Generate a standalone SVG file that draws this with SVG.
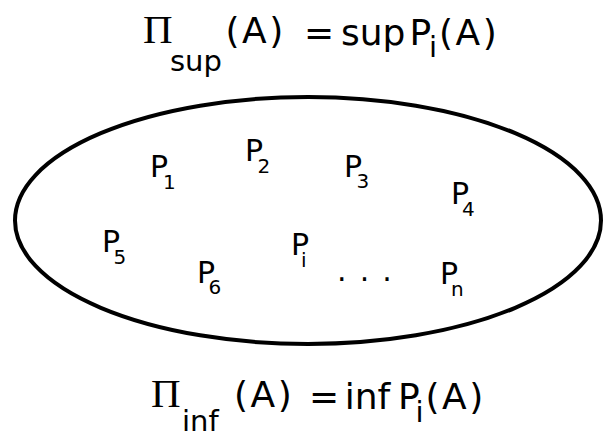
<svg xmlns="http://www.w3.org/2000/svg" width="605" height="434" viewBox="0 0 605 434">
<style>
.t{font-family:"DejaVu Sans",Verdana,sans-serif;fill:#000}
.m{font-size:36px}
.w{letter-spacing:2.5px}
.s{font-size:29px}
.pi{font-family:"Liberation Serif","Times New Roman",serif;font-size:41px;fill:#000}
.p{font-size:30px}
.ps{font-size:20px}
</style>
<rect width="605" height="434" fill="#fff"/>
<g id="formula-sup">
<text class="pi" x="143" y="43">Π</text>
<text class="t s" x="170" y="71">sup</text>
<text class="t m w" x="225.5" y="43">(A)</text>
<text class="t m" x="304" y="45">=</text>
<text class="t m" x="341" y="45">sup</text>
<text class="t m" x="409.4" y="45">P</text>
<text class="t s" x="429" y="57">i</text>
<text class="t m w" x="439" y="45">(A)</text>
</g>
<g id="set">
<ellipse cx="308" cy="220.5" rx="293" ry="123.5" fill="none" stroke="#000" stroke-width="4"/>
</g>
<g id="P1"><text class="t p" x="150" y="177">P</text><text class="t ps" x="163" y="189">1</text></g>
<g id="P2"><text class="t p" x="245" y="161">P</text><text class="t ps" x="257.5" y="173">2</text></g>
<g id="P3"><text class="t p" x="344" y="177">P</text><text class="t ps" x="356.5" y="188">3</text></g>
<g id="P4"><text class="t p" x="451" y="204">P</text><text class="t ps" x="462" y="216">4</text></g>
<g id="P5"><text class="t p" x="102" y="252">P</text><text class="t ps" x="113.5" y="264">5</text></g>
<g id="P6"><text class="t p" x="197" y="283">P</text><text class="t ps" x="208.5" y="294">6</text></g>
<g id="Pi"><text class="t p" x="291" y="255">P</text><text class="t ps" x="301" y="267">i</text></g>
<g id="dots"><text class="t p" x="337" y="281" letter-spacing="1.8">. . .</text></g>
<g id="Pn"><text class="t p" x="440" y="284">P</text><text class="t ps" x="451" y="296">n</text></g>
<g id="formula-inf">
<text class="pi" x="151" y="407">Π</text>
<text class="t s" x="182" y="431">inf</text>
<text class="t m w" x="234" y="407">(A)</text>
<text class="t m" x="309" y="409">=</text>
<text class="t m" x="344.8" y="409">inf</text>
<text class="t m" x="398" y="409">P</text>
<text class="t s" x="415.4" y="422">i</text>
<text class="t m w" x="425.5" y="409">(A)</text>
</g>
</svg>
